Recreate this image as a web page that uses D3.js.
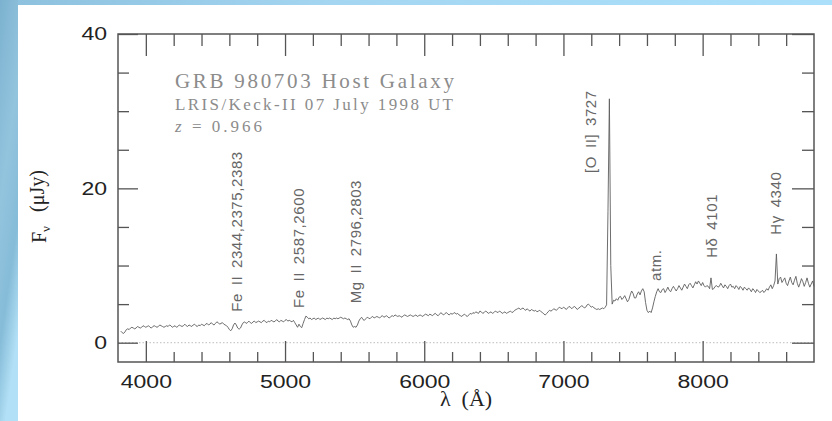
<!DOCTYPE html>
<html>
<head>
<meta charset="utf-8">
<script src="https://cdn.jsdelivr.net/npm/d3@7"></script>
<style>
  html, body { margin: 0; padding: 0; background: #fff; }
  svg { display: block; }
</style>
</head>
<body>
<svg id="chart" width="832" height="421"></svg>
<script>
// Observed-frame spectrum of the GRB 980703 host, sampled every 10 Å from 3820 Å.
const lambdaStart = 3820;
const lambdaStep = 10;
const flux = [
  1.5, 1.3, 1.2, 1.4, 1.7, 1.8, 1.7, 1.9, 2.0, 1.9,   // 3820
  1.8, 1.9, 2.1, 2.0, 1.9, 2.0, 2.2, 2.1, 2.0, 2.1,   // 3920
  2.2, 2.0, 1.9, 2.1, 2.2, 2.1, 2.0, 2.1, 2.3, 2.2,   // 4020
  2.1, 2.0, 2.1, 2.2, 2.1, 2.3, 2.2, 2.0, 2.1, 2.2,   // 4120
  2.0, 2.1, 2.3, 2.2, 2.1, 2.2, 2.4, 2.2, 2.1, 2.3,   // 4220
  2.2, 2.1, 2.3, 2.4, 2.2, 2.1, 2.3, 2.2, 2.4, 2.3,   // 4320
  2.2, 2.4, 2.5, 2.3, 2.4, 2.6, 2.4, 2.3, 2.5, 2.7,   // 4420
  2.6, 2.4, 2.5, 2.6, 2.4, 2.3, 2.2, 2.0, 1.7, 1.55,  // 4520
  1.8, 2.3, 2.55, 2.3, 1.9, 1.75, 1.9, 2.3, 2.6, 2.7, // 4620  Fe II
  2.5, 2.6, 2.8, 2.6, 2.5, 2.7, 2.8, 2.6, 2.7, 2.8,   // 4720
  2.7, 2.6, 2.8, 2.9, 2.7, 2.6, 2.8, 2.7, 2.9, 2.8,   // 4820
  2.7, 2.8, 3.0, 2.8, 2.7, 2.9, 2.8, 2.7, 2.9, 3.0,   // 4920
  2.8, 2.9, 2.8, 2.7, 2.9, 2.6, 2.3, 2.0, 2.4, 2.1,   // 5020  Fe II
  1.95, 2.5, 3.0, 3.45, 3.3, 3.1, 3.2, 3.0, 3.1, 3.2, // 5120
  3.0, 3.1, 3.2, 3.0, 3.1, 3.2, 3.1, 3.0, 3.2, 3.1,   // 5220
  3.2, 3.1, 3.0, 3.2, 3.1, 3.2, 3.1, 3.2, 3.3, 3.2,   // 5320
  3.1, 3.2, 3.1, 3.0, 3.1, 2.8, 2.3, 2.0, 2.1, 2.0,   // 5420  Mg II
  2.3, 2.8, 3.1, 3.3, 3.0, 2.9, 3.1, 3.3, 3.2, 3.1,   // 5520
  3.3, 3.4, 3.2, 3.3, 3.4, 3.3, 3.2, 3.4, 3.5, 3.3,   // 5620
  3.4, 3.5, 3.3, 3.2, 3.4, 3.5, 3.4, 3.6, 3.5, 3.4,   // 5720
  3.5, 3.4, 3.3, 3.5, 3.6, 3.5, 3.4, 3.5, 3.6, 3.5,   // 5820
  3.4, 3.5, 3.6, 3.4, 3.5, 3.6, 3.5, 3.4, 3.6, 3.7,   // 5920
  3.6, 3.5, 3.7, 3.6, 3.5, 3.7, 3.8, 3.6, 3.5, 3.7,   // 6020
  3.9, 3.7, 3.6, 3.8, 3.9, 3.7, 3.6, 3.8, 3.7, 3.8,   // 6120
  3.9, 3.7, 3.8, 3.6, 3.5, 3.4, 3.6, 3.7, 3.5, 3.4,   // 6220
  3.6, 3.8, 3.7, 3.9, 3.8, 4.0, 3.9, 3.8, 4.1, 4.0,   // 6320
  3.8, 3.9, 4.1, 4.0, 3.8, 3.9, 4.0, 3.8, 3.9, 4.1,   // 6420
  4.0, 3.9, 4.1, 4.0, 3.8, 3.9, 4.0, 3.8, 3.9, 4.0,   // 6520
  4.1, 3.9, 4.0, 4.2, 4.3, 4.4, 4.5, 4.3, 4.4, 4.5,   // 6620
  4.3, 4.2, 4.4, 4.2, 4.1, 4.3, 4.2, 4.1, 4.2, 4.0,   // 6720
  4.1, 4.2, 4.0, 3.9, 3.7, 3.6, 3.8, 4.0, 4.2, 4.1,   // 6820
  4.2, 4.4, 4.3, 4.2, 4.4, 4.6, 4.5, 4.4, 4.6, 4.5,   // 6920
  4.3, 4.5, 4.7, 4.6, 4.4, 4.6, 4.7, 4.5, 4.3, 4.5,   // 7020
  4.6, 4.8, 4.7, 4.5, 4.6, 4.9, 5.0, 4.8, 4.6, 4.7,   // 7120
  4.5, 4.4, 4.3, 4.4, 4.3, 4.4, 4.5, 4.4, 4.6, 4.9,   // 7220
  17.0, 31.6, 10.0, 5.0, 5.5, 5.4, 5.7, 5.5, 5.9, 6.0, // 7320  [O II]
  5.6, 5.8, 6.1, 5.7, 5.3, 5.6, 6.2, 6.7, 6.4, 5.8,   // 7420
  5.8, 6.3, 6.6, 6.2, 6.7, 7.0, 6.6, 5.2, 4.2, 3.9,   // 7520  A band
  4.1, 3.9, 4.5, 5.3, 6.0, 6.6, 7.0, 6.6, 6.5, 6.9,   // 7620
  7.0, 6.5, 6.8, 7.2, 6.8, 6.6, 7.0, 7.3, 7.0, 6.7,   // 7720
  7.0, 7.4, 7.1, 6.8, 7.2, 7.6, 7.3, 7.0, 7.5, 7.7,   // 7820
  7.4, 7.1, 7.5, 7.9, 7.6, 8.0, 7.7, 7.4, 7.8, 7.4,   // 7920
  7.2, 7.4, 7.3, 7.0, 8.4, 6.9, 7.0, 7.3, 7.4, 7.2,   // 8020  H-delta
  7.3, 7.7, 7.4, 7.1, 7.5, 7.3, 7.0, 7.4, 7.6, 7.2,   // 8120
  7.3, 7.0, 7.4, 7.2, 6.9, 7.3, 7.1, 6.8, 7.2, 7.0,   // 8220
  6.8, 7.1, 6.9, 6.6, 7.0, 6.8, 6.5, 6.9, 6.7, 6.5,   // 8320
  6.6, 6.8, 6.5, 6.7, 7.0, 6.8, 7.2, 7.5, 7.0, 7.4,   // 8420
  8.0, 11.5, 7.6, 8.3, 8.5, 7.8, 8.1, 8.4, 7.7, 7.4,  // 8520  H-gamma
  8.0, 8.5, 7.8, 7.5, 8.1, 8.6, 7.7, 7.2, 7.7, 8.3,   // 8620
  7.9, 7.3, 7.8, 8.4, 7.7, 7.2, 7.6, 8.0, 7.3         // 8720
];

// Axis ticks
const xMajorTicks = [4000, 5000, 6000, 7000, 8000];
const xMinorTicks = [4200, 4400, 4600, 4800, 5200, 5400, 5600, 5800, 6200, 6400, 6600, 6800,
                     7200, 7400, 7600, 7800, 8200, 8400, 8600];
const yMajorTicks = [0, 20, 40];
const yMinorTicks = [5, 10, 15, 25, 30, 35];

// Line identifications: text, and where the label sits (wavelength, flux where it starts)
const lineLabels   = ["Fe II 2344,2375,2383", "Fe II 2587,2600", "Mg II 2796,2803",
                      "[O II] 3727", "atm.", "H\u03B4 4101", "H\u03B3 4340"];
const labelLambda  = [4655, 5100, 5506, 7198, 7665, 8067, 8527];
const labelFlux    = [4.0, 4.5, 5.1, 22.0, 8.0, 11.0, 14.0];

const titleLines = ["GRB 980703 Host Galaxy", "LRIS/Keck-II 07 July 1998 UT"];
const redshift = "0.966";

// ---------------------------------------------------------------------------
const svg = d3.select("#chart");
const W = 832, H = 421;
const margin = { left: 118, right: 18, top: 34, bottom: 59 };
const plotW = W - margin.left - margin.right;   // 696
const plotH = H - margin.top - margin.bottom;   // 328

const x = d3.scaleLinear().domain([3800, 8800]).range([margin.left, margin.left + plotW]);
const y = d3.scaleLinear().domain([-2.5, 40]).range([margin.top + plotH, margin.top]);

// Page backdrop: blue border strips round a white sheet
const defs = svg.append("defs");
const gLeft = defs.append("linearGradient").attr("id", "leftStrip")
  .attr("x1", 0).attr("y1", 0).attr("x2", 0.3).attr("y2", 1);
gLeft.append("stop").attr("offset", "0%").attr("stop-color", "#7cb2cf");
gLeft.append("stop").attr("offset", "45%").attr("stop-color", "#93c4de");
gLeft.append("stop").attr("offset", "75%").attr("stop-color", "#86bcd8");
gLeft.append("stop").attr("offset", "100%").attr("stop-color", "#b2e0f6");
const gTop = defs.append("linearGradient").attr("id", "topStrip")
  .attr("x1", 0).attr("y1", 0).attr("x2", 1).attr("y2", 0);
gTop.append("stop").attr("offset", "0%").attr("stop-color", "#8cc0dc");
gTop.append("stop").attr("offset", "40%").attr("stop-color", "#a4d6f2");
gTop.append("stop").attr("offset", "100%").attr("stop-color", "#ace0fa");

svg.append("rect").attr("x", 0).attr("y", 0).attr("width", W).attr("height", H).attr("fill", "#fff");
svg.append("rect").attr("x", 0).attr("y", 0).attr("width", W).attr("height", 5).attr("fill", "url(#topStrip)");
svg.append("rect").attr("x", 0).attr("y", 0).attr("width", 18).attr("height", H).attr("fill", "url(#leftStrip)");

const ink = "#555";
const sans = "'Liberation Sans', Arial, sans-serif";
const serif = "'Liberation Serif', 'DejaVu Serif', serif";

// Zero level
svg.append("line")
  .attr("x1", x(3800)).attr("x2", x(8800))
  .attr("y1", y(0)).attr("y2", y(0))
  .attr("stroke", "#bdbdbd").attr("stroke-width", 1)
  .attr("stroke-dasharray", "1.5,2");

// Ticks on all four sides, pointing inward
function styleAxis(g) {
  g.select(".domain").remove();
  g.selectAll(".tick line").attr("stroke", ink).attr("stroke-width", 1.3);
  g.selectAll(".tick text")
    .attr("fill", "#222")
    .attr("textLength", d => String(d).length * 12.8)
    .attr("lengthAdjust", "spacingAndGlyphs")
    .style("font-family", sans)
    .style("font-size", "18px");
}
const bottomY = margin.top + plotH, topY = margin.top;
const leftX = margin.left, rightX = margin.left + plotW;

svg.append("g").attr("transform", `translate(0,${bottomY})`)
  .call(d3.axisBottom(x).tickValues(xMajorTicks).tickSize(-21).tickPadding(13).tickFormat(d3.format("d")))
  .call(styleAxis);
svg.append("g").attr("transform", `translate(0,${bottomY})`)
  .call(d3.axisBottom(x).tickValues(xMinorTicks).tickSize(-10).tickFormat(""))
  .call(styleAxis);
svg.append("g").attr("transform", `translate(0,${topY})`)
  .call(d3.axisTop(x).tickValues(xMajorTicks).tickSize(-22).tickFormat(""))
  .call(styleAxis);
svg.append("g").attr("transform", `translate(0,${topY})`)
  .call(d3.axisTop(x).tickValues(xMinorTicks).tickSize(-12).tickFormat(""))
  .call(styleAxis);

svg.append("g").attr("transform", `translate(${leftX},0)`)
  .call(d3.axisLeft(y).tickValues(yMajorTicks).tickSize(-20).tickPadding(11).tickFormat(d3.format("d")))
  .call(styleAxis);
svg.append("g").attr("transform", `translate(${leftX},0)`)
  .call(d3.axisLeft(y).tickValues(yMinorTicks).tickSize(-11).tickFormat(""))
  .call(styleAxis);
svg.append("g").attr("transform", `translate(${rightX},0)`)
  .call(d3.axisRight(y).tickValues(yMajorTicks).tickSize(-22).tickFormat(""))
  .call(styleAxis);
svg.append("g").attr("transform", `translate(${rightX},0)`)
  .call(d3.axisRight(y).tickValues(yMinorTicks).tickSize(-12).tickFormat(""))
  .call(styleAxis);

// Frame
svg.append("rect")
  .attr("x", leftX).attr("y", topY).attr("width", plotW).attr("height", plotH)
  .attr("fill", "none").attr("stroke", ink).attr("stroke-width", 1.5);

// Spectrum
const spectrum = flux.map((f, i) => [lambdaStart + i * lambdaStep, f]);
svg.append("path")
  .datum(spectrum)
  .attr("fill", "none")
  .attr("stroke", "#5e5e5e")
  .attr("stroke-width", 0.9)
  .attr("stroke-linejoin", "round")
  .attr("d", d3.line().x(d => x(d[0])).y(d => y(d[1])));

// Line identifications (vertical text)
svg.append("g").selectAll("text")
  .data(lineLabels)
  .join("text")
  .attr("transform", (d, i) => `translate(${x(labelLambda[i])},${y(labelFlux[i])}) rotate(-90)`)
  .attr("dy", "0.35em")
  .attr("fill", "#666")
  .style("font-family", sans)
  .style("font-size", "15px")
  .style("letter-spacing", "0.6px")
  .style("word-spacing", "3px")
  .text(d => d);

// Header block
svg.append("text")
  .attr("x", 175).attr("y", 88)
  .attr("fill", "#8c8c8c")
  .attr("textLength", 279).attr("lengthAdjust", "spacing")
  .style("font-family", serif).style("font-size", "21px")
  .text(titleLines[0]);
svg.append("text")
  .attr("x", 175).attr("y", 110)
  .attr("fill", "#8c8c8c")
  .attr("textLength", 278).attr("lengthAdjust", "spacing")
  .style("font-family", serif).style("font-size", "17px")
  .text(titleLines[1]);
const zText = svg.append("text")
  .attr("x", 175).attr("y", 132)
  .attr("fill", "#8c8c8c")
  .attr("textLength", 87).attr("lengthAdjust", "spacing")
  .style("font-family", serif).style("font-size", "17px");
zText.append("tspan").style("font-style", "italic").text("z");
zText.append("tspan").text(" = " + redshift);

// Axis titles
svg.append("text")
  .attr("x", 466).attr("y", 406)
  .attr("text-anchor", "middle")
  .attr("fill", "#222")
  .style("white-space", "pre")
  .style("font-family", serif).style("font-size", "22px")
  .text("\u03BB  (\u00C5)");

const yTitle = svg.append("text")
  .attr("transform", "translate(46,243) rotate(-90)")
  .attr("fill", "#222")
  .style("white-space", "pre")
  .style("font-family", serif).style("font-size", "20px");
yTitle.append("tspan").text("F");
yTitle.append("tspan").attr("dy", "0.3em").style("font-size", "13px").text("\u03BD");
yTitle.append("tspan").attr("dy", "-0.3em").attr("dx", "4").text("  (\u03BCJy)");
</script>
</body>
</html>
